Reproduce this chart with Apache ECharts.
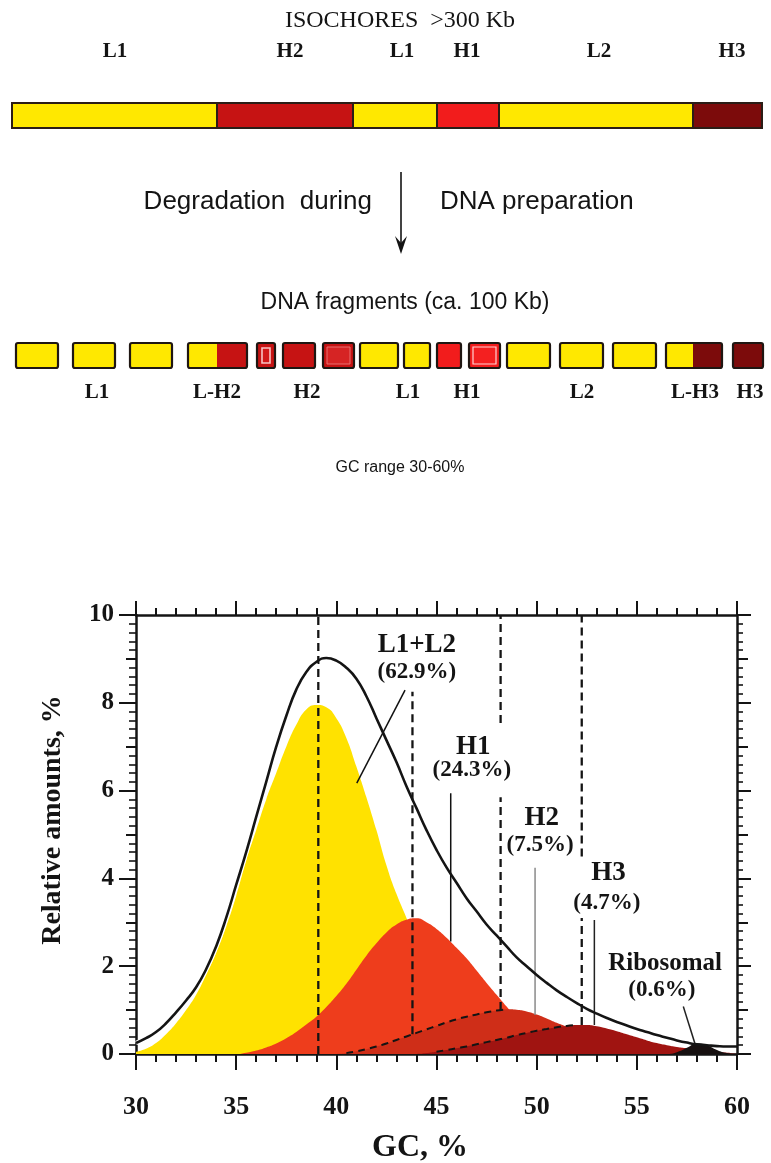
<!DOCTYPE html>
<html><head><meta charset="utf-8">
<script src="https://cdn.jsdelivr.net/npm/echarts@6/dist/echarts.min.js"></script>
<style>html,body{margin:0;padding:0;background:#fff}#c{width:771px;height:1163px}</style>
</head><body><div id="c"></div>
<script>
// ---------------- DATA ----------------
// GC content (%) sample positions for the CsCl profile curves
const gc = [30,30.5,31,31.5,32,32.5,33,33.5,34,34.5,35,35.5,36,36.5,37,37.5,38,38.5,39,39.5,
  40,40.5,41,41.5,42,42.5,43,43.5,44,44.5,45,45.5,46,46.5,47,47.5,48,48.5,49,49.5,
  50,50.5,51,51.5,52,52.5,53,53.5,54,54.5,55,55.5,56,56.5,57,57.5,58,58.5,59,59.5,60];
// total DNA profile (black curve), relative amounts %
const totalProfile = [0.25,0.36,0.5,0.7,0.95,1.22,1.52,1.93,2.45,3.1,3.85,4.6,5.4,6.2,7.0,7.7,8.3,8.7,8.93,9.02,
  8.96,8.8,8.55,8.15,7.65,7.15,6.65,6.1,5.6,5.1,4.65,4.25,3.9,3.55,3.25,2.95,2.7,2.45,2.2,2.0,
  1.8,1.62,1.45,1.3,1.16,1.03,0.92,0.82,0.73,0.65,0.57,0.5,0.43,0.37,0.31,0.26,0.22,0.2,0.18,0.17,0.17];
// L1+L2 family (yellow)
const l1l2 = [0.05,0.12,0.25,0.45,0.7,1.0,1.35,1.8,2.3,2.9,3.6,4.4,5.1,5.8,6.4,7.0,7.5,7.85,7.95,7.9,
  7.65,7.2,6.55,5.85,5.1,4.3,3.65,3.1,2.5,1.95,1.45,1.05,0.7,0.45,0.28,0.15,0.07,0.02,0,0,
  0,0,0,0,0,0,0,0,0,0,0,0,0,0,0,0,0,0,0,0,0];
// H1 family
const h1 = [0,0,0,0,0,0,0,0,0,0,0,0.03,0.08,0.15,0.24,0.36,0.5,0.67,0.85,1.07,
  1.32,1.6,1.92,2.24,2.52,2.77,2.95,3.06,3.09,3.0,2.85,2.65,2.42,2.18,1.9,1.62,1.35,1.08,0.82,0.6,
  0.42,0.28,0.17,0.1,0.05,0.02,0,0,0,0,0,0,0,0,0,0,0,0,0,0,0];
// H2 family
const h2 = [0,0,0,0,0,0,0,0,0,0,0,0,0,0,0,0,0,0,0,0,
  0,0.02,0.06,0.11,0.17,0.24,0.32,0.4,0.48,0.56,0.64,0.72,0.79,0.85,0.9,0.95,0.99,1.02,1.01,0.97,
  0.9,0.81,0.71,0.62,0.52,0.42,0.32,0.23,0.15,0.09,0.04,0.01,0,0,0,0,0,0,0,0,0];
// H3 family
const h3 = [0,0,0,0,0,0,0,0,0,0,0,0,0,0,0,0,0,0,0,0,
  0,0,0,0,0,0,0,0,0,0.02,0.05,0.09,0.13,0.17,0.22,0.27,0.32,0.37,0.43,0.48,
  0.53,0.57,0.61,0.64,0.66,0.66,0.63,0.58,0.52,0.45,0.38,0.31,0.25,0.2,0.16,0.13,0.1,0.07,0.05,0.03,0.02];
// ribosomal DNA
const ribosomal = [0,0,0,0,0,0,0,0,0,0,0,0,0,0,0,0,0,0,0,0,
  0,0,0,0,0,0,0,0,0,0,0,0,0,0,0,0,0,0,0,0,
  0,0,0,0,0,0,0,0,0,0,0,0,0,0,0.04,0.14,0.24,0.2,0.09,0.02,0];
// GC ranges where a family lies under the previous one (its edge drawn dashed)
const h2HiddenRange = [40.5, 48.5];
const h3HiddenRange = [45, 52];
// modal GC of each family: [gc, from, to] dashed guide pieces
const guides = [[39.1,0,10],[43.8,0.45,8.25],[48.2,1.0,5.85],[48.2,7.54,10],[52.25,0.66,3.1],[52.25,4.5,10]];
// leader lines from labels to curves: [[gc,y],[gc,y], colour]
const leaders = [[[43.43,8.29],[41.02,6.17],'#111'],[[45.71,5.94],[45.71,2.56],'#111'],
  [[49.92,4.24],[49.92,0.89],'#8a8a8a'],[[52.88,3.05],[52.88,0.66],'#222'],[[57.32,1.08],[57.9,0.24],'#222']];
// annotation texts [text, gc, y, kind]
const annotations = [
  ['L1+L2',44.02,9.32,'name'],['(62.9%)',44.02,8.71,'pct'],
  ['H1',46.84,7.0,'name'],['(24.3%)',46.76,6.47,'pct'],
  ['H2',50.25,5.37,'name'],['(7.5%)',50.17,4.76,'pct'],
  ['H3',53.58,4.12,'name'],['(4.7%)',53.5,3.43,'pct'],
  ['Ribosomal',56.41,2.07,'small'],['(0.6%)',56.25,1.46,'pct']];
const xTicks = [30,35,40,45,50,55,60];
const yTicks = [0,2,4,6,8,10];

// isochore map (>300 Kb): [start, end, name, label centre] along the chromosome strip
const isoSegments = [[12,217,'L1',115],[217,353,'H2',290],[353,437,'L1',402],[437,499,'H1',467],[499,693,'L2',599],[693,762,'H3',732]];
// DNA fragments (ca. 100 Kb): pieces [start, end, class]
const fragments = [
  [[16,58,'L']],[[73,115,'L']],[[130,172,'L']],[[188,217,'L'],[217,247,'H2']],
  [[257,275,'H2']],[[283,315,'H2']],[[323,354,'H2']],[[360,398,'L']],[[404,430,'L']],
  [[437,461,'H1']],[[469,500,'H1']],[[507,550,'L']],[[560,603,'L']],[[613,656,'L']],
  [[666,693,'L'],[693,722,'H3']],[[733,763,'H3']]];
const fragAccent = {4:'ring',6:'inset',10:'glint'};
const fragLabels = [['L1',97],['L-H2',217],['H2',307],['L1',408],['H1',467],['L2',582],['L-H3',695],['H3',750]];

// ---------------- STYLE ----------------
const SERIF = '"Liberation Serif","Times New Roman",serif';
const SANS = '"Liberation Sans",Arial,sans-serif';
const INK = '#141414';
const blockColour = {L:'#FFE800', H1:'#F21C1C', H2:'#C61313', H3:'#7C0B0B'};
const areaColours = ['#FFE200','#EE3D1C','#CF2E18','#A01411','#161010'];
const SMOOTH = 0.5;

const chart = echarts.init(document.getElementById('c'));
const pairs = v => gc.map((x,i)=>[x,v[i]]);
const within = (v,r) => pairs(v).filter(p=>p[0]>=r[0]&&p[0]<=r[1]);

const series = [];
[l1l2,h1,h2,h3,ribosomal].forEach((v,i)=>{
  series.push({type:'line',xAxisIndex:0,yAxisIndex:0,data:pairs(v),smooth:SMOOTH,symbol:'none',
    lineStyle:{width:0},areaStyle:{color:areaColours[i],opacity:1},z:2+i*0.01,silent:true});
});
series.push({type:'line',xAxisIndex:0,yAxisIndex:0,data:within(h2,h2HiddenRange),smooth:SMOOTH,symbol:'none',
  lineStyle:{color:INK,width:2,type:[7,5]},z:3});
series.push({type:'line',xAxisIndex:0,yAxisIndex:0,data:within(h3,h3HiddenRange),smooth:SMOOTH,symbol:'none',
  lineStyle:{color:INK,width:2,type:[7,5]},z:3});
guides.forEach(g=>{
  series.push({type:'line',xAxisIndex:0,yAxisIndex:0,data:[[g[0],g[1]],[g[0],g[2]]],symbol:'none',
    lineStyle:{color:INK,width:2.3,type:[8,5]},z:4});
});
leaders.forEach(l=>{
  series.push({type:'line',xAxisIndex:0,yAxisIndex:0,data:[l[0],l[1]],symbol:'none',
    lineStyle:{color:l[2],width:1.5},z:4});
});
// white halo + black total profile
series.push({type:'line',xAxisIndex:0,yAxisIndex:0,data:within(totalProfile,[30,39]),smooth:SMOOTH,symbol:'none',
  lineStyle:{color:'#fff',width:4.5},z:5});
series.push({type:'line',xAxisIndex:0,yAxisIndex:0,data:pairs(totalProfile),smooth:SMOOTH,symbol:'none',
  lineStyle:{color:INK,width:2.6},z:6});
const annSize = {name:27,pct:23,small:25};
series.push({type:'custom',coordinateSystem:'cartesian2d',xAxisIndex:0,yAxisIndex:0,clip:false,z:7,
  data:annotations.map(a=>[a[1],a[2]]),encode:{x:0,y:1},
  renderItem:(p,api)=>{
    const a=annotations[p.dataIndex]; const t=api.coord([a[1],a[2]]);
    return {type:'text',x:t[0],y:t[1],style:{text:a[0],align:'center',verticalAlign:'middle',
      font:'bold '+annSize[a[3]]+'px '+SERIF,fill:INK}};
  }});

// ---- top diagram (hidden map axes, 1 unit = 1 px of the strip) ----
const ISO_TOP=103, ISO_BOT=128, ISO_LABEL=52, FR_TOP=343, FR_BOT=368, FR_LABEL=393;
series.push({type:'custom',coordinateSystem:'cartesian2d',xAxisIndex:2,yAxisIndex:4,clip:false,
  data:isoSegments.map(s=>[s[0],s[1]]),encode:{x:[0,1]},
  renderItem:(p,api)=>{
    const s=isoSegments[p.dataIndex];
    const a=api.coord([s[0],ISO_TOP]), b=api.coord([s[1],ISO_BOT]), t=api.coord([s[3],ISO_LABEL]);
    const key = s[2][0]==='L'?'L':s[2];
    return {type:'group',children:[
      {type:'rect',shape:{x:a[0],y:a[1],width:b[0]-a[0],height:b[1]-a[1]},style:{fill:blockColour[key],stroke:'#2b1d16',lineWidth:2}},
      {type:'text',x:t[0],y:t[1],style:{text:s[2],align:'center',verticalAlign:'middle',font:'bold 21px '+SERIF,fill:INK}}]};
  }});
series.push({type:'custom',coordinateSystem:'cartesian2d',xAxisIndex:2,yAxisIndex:4,clip:false,
  data:fragments.map(f=>[f[0][0],f[f.length-1][1]]),encode:{x:[0,1]},
  renderItem:(p,api)=>{
    const f=fragments[p.dataIndex]; const ch=[];
    f.forEach(pc=>{
      const a=api.coord([pc[0],FR_TOP]), b=api.coord([pc[1],FR_BOT]);
      ch.push({type:'rect',shape:{x:a[0],y:a[1],width:b[0]-a[0],height:b[1]-a[1]},style:{fill:blockColour[pc[2]]}});
    });
    const a=api.coord([f[0][0],FR_TOP]), b=api.coord([f[f.length-1][1],FR_BOT]);
    const w=b[0]-a[0], h=b[1]-a[1];
    const acc=fragAccent[p.dataIndex];
    if(acc==='ring') ch.push({type:'rect',shape:{x:a[0]+5,y:a[1]+5,width:w-10,height:h-10},style:{fill:'#D21818',stroke:'#F7C4C4',lineWidth:1.6}});
    if(acc==='inset') ch.push({type:'rect',shape:{x:a[0]+4,y:a[1]+4,width:w-8,height:h-8},style:{fill:'#D62424',stroke:'#E87070',lineWidth:1}});
    if(acc==='glint') ch.push({type:'rect',shape:{x:a[0]+4,y:a[1]+4,width:w-8,height:h-8},style:{fill:'#F42020',stroke:'#FFD2D2',lineWidth:1.2}});
    ch.push({type:'rect',shape:{x:a[0],y:a[1],width:w,height:h,r:2},style:{fill:'none',stroke:'#1f1612',lineWidth:2.2}});
    return {type:'group',children:ch};
  }});
series.push({type:'custom',coordinateSystem:'cartesian2d',xAxisIndex:2,yAxisIndex:4,clip:false,
  data:fragLabels.map(l=>[l[1],FR_LABEL]),encode:{x:0,y:1},
  renderItem:(p,api)=>{
    const l=fragLabels[p.dataIndex]; const t=api.coord([l[1],FR_LABEL]);
    return {type:'text',x:t[0],y:t[1],style:{text:l[0],align:'center',verticalAlign:'middle',font:'bold 21px '+SERIF,fill:INK}};
  }});

const tickFont = {fontFamily:SERIF,fontWeight:'bold',color:INK};
const axisLine = {show:true,onZero:false,lineStyle:{color:INK,width:2.5}};
const option = {
  animation:false,
  backgroundColor:'#fff',
  grid:[{left:136,right:34,top:615,bottom:109,outerBoundsMode:'none'},
        {left:0,top:0,width:771,height:1163,outerBoundsMode:'none'}],
  xAxis:[
    {gridIndex:0,type:'value',min:xTicks[0],max:xTicks[xTicks.length-1],interval:5,position:'bottom',
     axisLine,axisTick:{show:true,length:16,lineStyle:{color:INK,width:2}},
     minorTick:{show:true,splitNumber:5,length:8,lineStyle:{color:INK,width:2}},
     splitLine:{show:false},axisLabel:{...tickFont,fontSize:26,margin:40}},
    {gridIndex:0,type:'value',min:xTicks[0],max:xTicks[xTicks.length-1],interval:5,position:'top',
     axisLine,axisTick:{show:true,length:14,lineStyle:{color:INK,width:2}},
     minorTick:{show:true,splitNumber:5,length:7,lineStyle:{color:INK,width:2}},
     splitLine:{show:false},axisLabel:{show:false}},
    {gridIndex:1,type:'value',min:0,max:771,show:false}
  ],
  yAxis:[
    {gridIndex:0,type:'value',min:yTicks[0],max:yTicks[yTicks.length-1],interval:2,position:'left',
     axisLine,axisTick:{show:true,length:17,lineStyle:{color:INK,width:2}},
     splitLine:{show:false},axisLabel:{...tickFont,fontSize:25,margin:22}},
    {gridIndex:0,type:'value',min:0,max:10,interval:1,position:'left',
     axisLine:{show:false},axisTick:{show:true,length:10,lineStyle:{color:INK,width:2}},
     minorTick:{show:true,splitNumber:5,length:7,lineStyle:{color:INK,width:1.6}},
     splitLine:{show:false},axisLabel:{show:false}},
    {gridIndex:0,type:'value',min:0,max:10,interval:2,position:'right',
     axisLine,axisTick:{show:true,length:14,lineStyle:{color:INK,width:2}},
     splitLine:{show:false},axisLabel:{show:false}},
    {gridIndex:0,type:'value',min:0,max:10,interval:1,position:'right',
     axisLine:{show:false},axisTick:{show:true,length:11,lineStyle:{color:INK,width:2}},
     minorTick:{show:true,splitNumber:5,length:6,lineStyle:{color:INK,width:1.6}},
     splitLine:{show:false},axisLabel:{show:false}},
    {gridIndex:1,type:'value',min:0,max:1163,inverse:true,show:false}
  ],
  graphic:[
    {type:'text',x:400,y:21,style:{text:'ISOCHORES  >300 Kb',align:'center',verticalAlign:'middle',font:'24px '+SERIF,fill:INK}},
    {type:'text',x:372,y:202,style:{text:'Degradation  during',align:'right',verticalAlign:'middle',font:'26px '+SANS,fill:INK}},
    {type:'text',x:440,y:202,style:{text:'DNA preparation',align:'left',verticalAlign:'middle',font:'26px '+SANS,fill:INK}},
    {type:'line',shape:{x1:401,y1:172,x2:401,y2:246},style:{stroke:INK,lineWidth:1.6}},
    {type:'polygon',shape:{points:[[401,254],[395,236],[401,243],[407,236]]},style:{fill:INK}},
    {type:'text',x:405,y:303,style:{text:'DNA fragments (ca. 100 Kb)',align:'center',verticalAlign:'middle',font:'23px '+SANS,fill:INK}},
    {type:'text',x:400,y:468,style:{text:'GC range 30-60%',align:'center',verticalAlign:'middle',font:'16px '+SANS,fill:INK}},
    {type:'text',x:53,y:820,rotation:Math.PI/2,style:{text:'Relative amounts, %',align:'center',verticalAlign:'middle',font:'bold 28px '+SERIF,fill:INK}},
    {type:'text',x:420,y:1148,style:{text:'GC, %',align:'center',verticalAlign:'middle',font:'bold 32px '+SERIF,fill:INK}}
  ],
  series
};
chart.setOption(option);
</script></body></html>
